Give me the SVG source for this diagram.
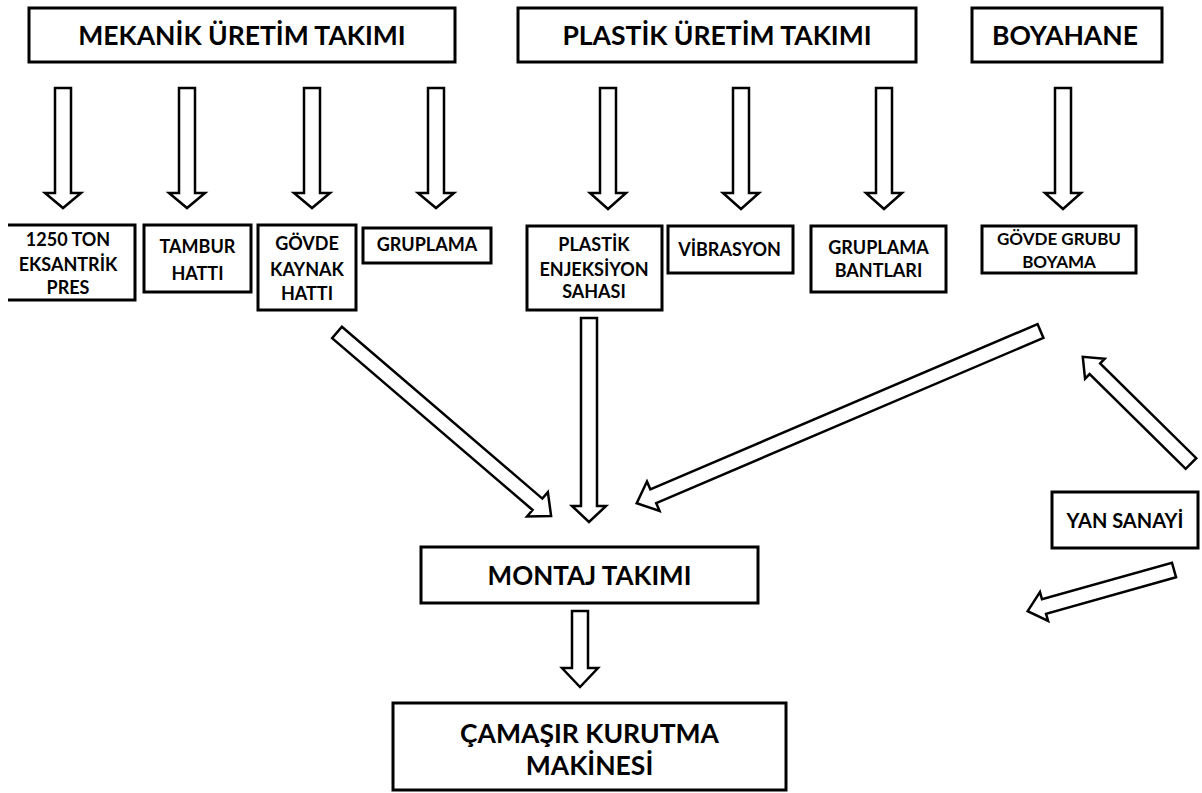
<svg xmlns="http://www.w3.org/2000/svg" width="1202" height="793" viewBox="0 0 1202 793">
  <style>
    .box { fill: #fff; stroke: #000; stroke-width: 3; }
    .arr { fill: #fff; stroke: #000; stroke-width: 2.5; stroke-linejoin: miter; }
    text { font-family: Lato, "Open Sans", "Liberation Sans", sans-serif; font-weight: 700; fill: #000; text-anchor: middle; }
    .t1 { font-size: 26.5px; }
    .t2 { font-size: 18px; }
    .t2s { font-size: 17px; }
    .t3 { font-size: 20px; }
    .t4 { font-size: 26px; }
  </style>
  <rect width="1202" height="793" fill="#fff"/>

  <!-- top-level departments -->
  <g id="mekanik">
    <rect class="box" x="29" y="8" width="426" height="54"/>
    <text class="t1" x="242" y="45">MEKANİK ÜRETİM TAKIMI</text>
  </g>
  <g id="plastik">
    <rect class="box" x="518" y="8" width="398" height="54"/>
    <text class="t1" x="717" y="45">PLASTİK ÜRETİM TAKIMI</text>
  </g>
  <g id="boyahane">
    <rect class="box" x="972" y="8" width="190" height="54"/>
    <text class="t1" x="1065" y="45">BOYAHANE</text>
  </g>

  <!-- work areas -->
  <g id="pres">
    <path class="box" d="M8,225 H135 V300 H8"/>
    <text class="t2" x="68" y="246">1250 TON</text>
    <text class="t2" x="68" y="271">EKSANTRİK</text>
    <text class="t2" x="68" y="294">PRES</text>
  </g>
  <g id="tambur">
    <rect class="box" x="144" y="225" width="107" height="67"/>
    <text class="t2" x="197.5" y="253">TAMBUR</text>
    <text class="t2" x="197.5" y="280">HATTI</text>
  </g>
  <g id="govde-kaynak">
    <rect class="box" x="258" y="225" width="98" height="85"/>
    <text class="t2" x="307" y="250">GÖVDE</text>
    <text class="t2" x="307" y="276">KAYNAK</text>
    <text class="t2" x="307" y="300">HATTI</text>
  </g>
  <g id="gruplama">
    <rect class="box" x="363" y="228" width="128" height="35"/>
    <text class="t2" x="427" y="251">GRUPLAMA</text>
  </g>
  <g id="enjeksiyon">
    <rect class="box" x="527" y="226" width="135" height="84"/>
    <text class="t2" x="594" y="251">PLASTİK</text>
    <text class="t2" x="594" y="276">ENJEKSİYON</text>
    <text class="t2" x="594" y="298">SAHASI</text>
  </g>
  <g id="vibrasyon">
    <rect class="box" x="668" y="226" width="125" height="47"/>
    <text class="t2" x="729.5" y="256">VİBRASYON</text>
  </g>
  <g id="gruplama-bantlari">
    <rect class="box" x="811" y="226" width="135" height="66"/>
    <text class="t2" x="878.5" y="254">GRUPLAMA</text>
    <text class="t2" x="878.5" y="277">BANTLARI</text>
  </g>
  <g id="govde-boyama">
    <rect class="box" x="982" y="226" width="154" height="47"/>
    <text class="t2s" x="1059" y="245">GÖVDE GRUBU</text>
    <text class="t2s" x="1059" y="268">BOYAMA</text>
  </g>

  <!-- assembly and product -->
  <g id="montaj">
    <rect class="box" x="421" y="547" width="337" height="56"/>
    <text class="t4" x="589.5" y="585">MONTAJ TAKIMI</text>
  </g>
  <g id="urun">
    <rect class="box" x="393" y="703" width="393" height="87"/>
    <text class="t1" x="589.5" y="743">ÇAMAŞIR KURUTMA</text>
    <text class="t1" x="589.5" y="775">MAKİNESİ</text>
  </g>
  <g id="yan-sanayi">
    <rect class="box" x="1052" y="492" width="146" height="56"/>
    <text class="t3" x="1125" y="528">YAN SANAYİ</text>
  </g>

  <!-- block arrows -->
  <g id="connectors">
    <polygon class="arr" points="55,88 71,88 71,193 81,193 63,208 45,193 55,193"/>
    <polygon class="arr" points="179,88 195,88 195,193 205,193 187,208 169,193 179,193"/>
    <polygon class="arr" points="304,88 320,88 320,193 330,193 312,208 294,193 304,193"/>
    <polygon class="arr" points="428,88 444,88 444,193 454,193 436,208 418,193 428,193"/>
    <polygon class="arr" points="600,88 616,88 616,193 626,193 608,209 590,193 600,193"/>
    <polygon class="arr" points="733,88 749,88 749,193 759,193 741,209 723,193 733,193"/>
    <polygon class="arr" points="876,88 892,88 892,193 902,193 884,209 866,193 876,193"/>
    <polygon class="arr" points="1055,88 1071,88 1071,193 1081,193 1063,209 1045,193 1055,193"/>

    <polygon class="arr" points="581,318 597,318 597,506 606,506 589,522 572,506 581,506"/>
    <polygon class="arr" points="572,611 588,611 588,668 598,668 580,687 562,668 572,668"/>

    <polygon class="arr" transform="translate(337,332.5) rotate(40.6)" points="0,-7.5 264,-7.5 264,-16 282,0 264,16 264,7.5 0,7.5"/>
    <polygon class="arr" transform="translate(1040.5,331) rotate(156.9)" points="0,-7.5 421,-7.5 421,-16 439,0 421,16 421,7.5 0,7.5"/>
    <polygon class="arr" transform="translate(1191,463.5) rotate(-135.4)" points="0,-7.5 135,-7.5 135,-14 152,0 135,14 135,7.5 0,7.5"/>
    <polygon class="arr" transform="translate(1174,570) rotate(164.3)" points="0,-7.5 135,-7.5 135,-15 152,0 135,15 135,7.5 0,7.5"/>
  </g>
</svg>
